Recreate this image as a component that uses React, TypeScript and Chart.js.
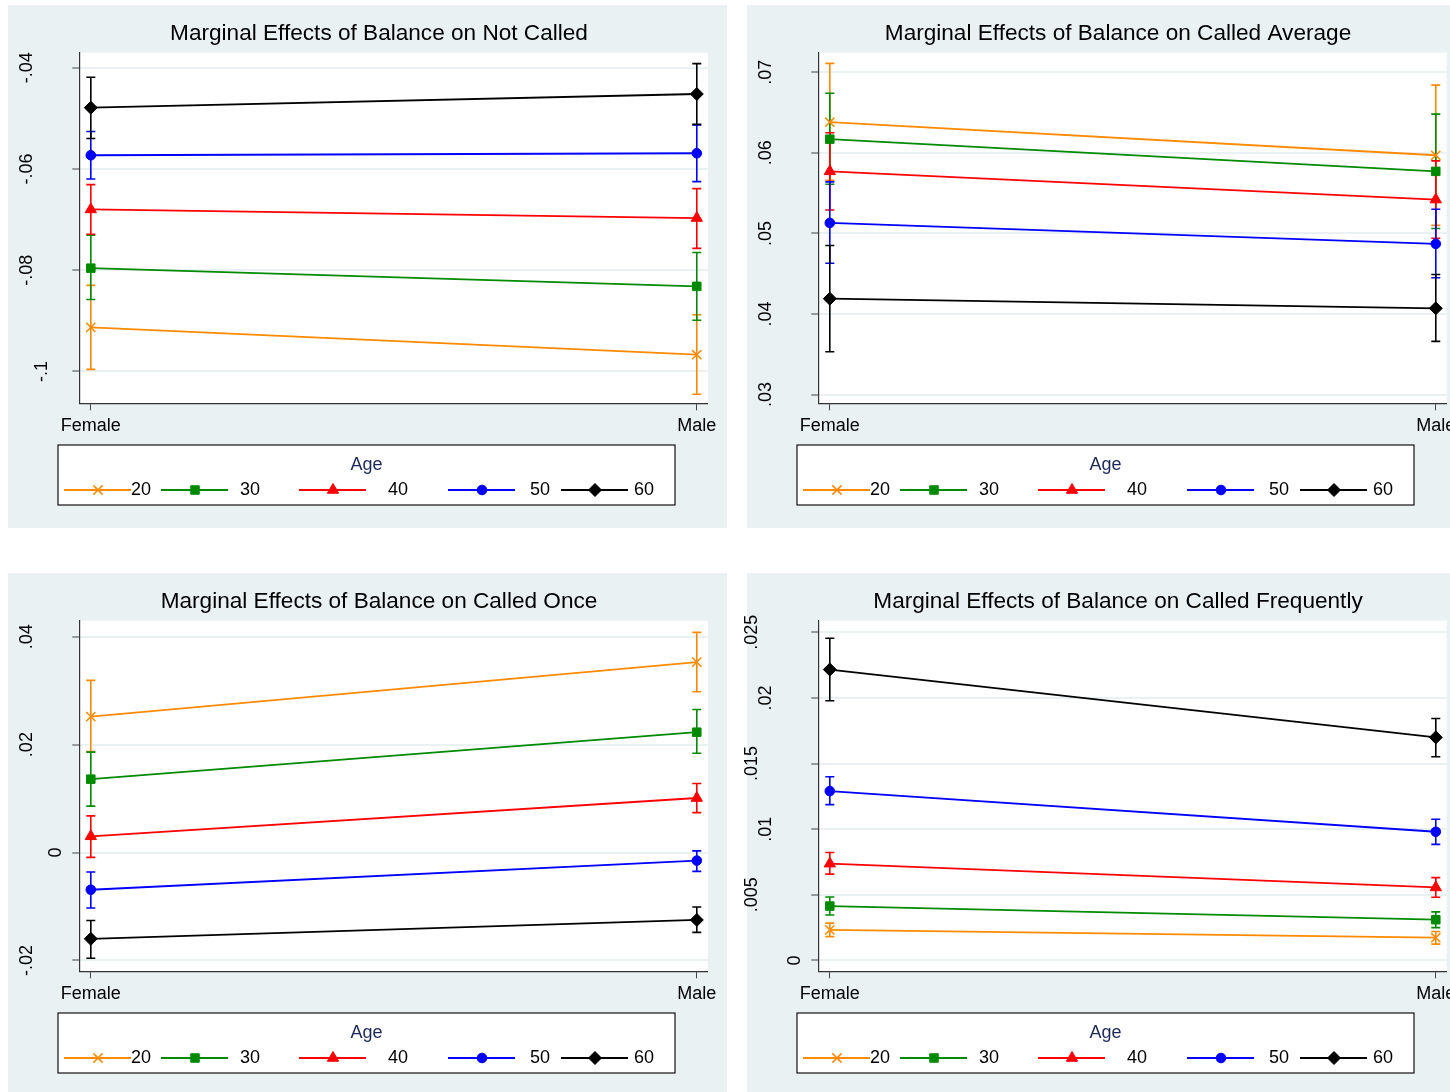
import React, { useEffect, useRef } from "react";
import { Chart, registerables } from "chart.js";

Chart.register(...registerables);

// ---------- data ----------
const categories = ["Female", "Male"];
const ageGroups = ["20", "30", "40", "50", "60"];

// Not Called
const notCalledEst = [[-0.0913, -0.0967], [-0.0796, -0.0832], [-0.068, -0.0697], [-0.0573, -0.0569], [-0.0479, -0.0452]];
const notCalledLow = [[-0.0996, -0.1045], [-0.0858, -0.0899], [-0.0729, -0.0757], [-0.062, -0.0625], [-0.054, -0.0512]];
const notCalledHigh = [[-0.083, -0.0888], [-0.0731, -0.0765], [-0.0631, -0.0639], [-0.0526, -0.0513], [-0.0419, -0.0392]];
const notCalledTicks = [-0.1, -0.08, -0.06, -0.04];
const notCalledTickLabels = ["-.1", "-.08", "-.06", "-.04"];

// Called Average
const avgEst = [[0.0638, 0.0597], [0.0617, 0.0577], [0.0577, 0.0542], [0.0513, 0.0487], [0.0419, 0.0407]];
const avgLow = [[0.0566, 0.051], [0.0561, 0.0506], [0.0529, 0.0494], [0.0463, 0.0445], [0.0353, 0.0366]];
const avgHigh = [[0.0711, 0.0684], [0.0674, 0.0648], [0.0625, 0.059], [0.0564, 0.053], [0.0485, 0.0449]];
const avgTicks = [0.03, 0.04, 0.05, 0.06, 0.07];
const avgTickLabels = [".03", ".04", ".05", ".06", ".07"];

// Called Once
const onceEst = [[0.0252, 0.0353], [0.0136, 0.0223], [0.003, 0.0101], [-0.0069, -0.0015], [-0.016, -0.0125]];
const onceLow = [[0.0187, 0.0298], [0.0086, 0.0184], [-0.0009, 0.0074], [-0.0103, -0.0035], [-0.0196, -0.0148]];
const onceHigh = [[0.0319, 0.0408], [0.0186, 0.0265], [0.0068, 0.0128], [-0.0036, 0.0003], [-0.0126, -0.0101]];
const onceTicks = [-0.02, 0, 0.02, 0.04];
const onceTickLabels = ["-.02", "0", ".02", ".04"];

// Called Frequently
const freqEst = [[0.00233, 0.00173], [0.00414, 0.0031], [0.00737, 0.00556], [0.0129, 0.0098], [0.02216, 0.01699]];
const freqLow = [[0.00181, 0.00124], [0.00346, 0.0025], [0.00657, 0.00481], [0.01187, 0.00884], [0.01978, 0.01551]];
const freqHigh = [[0.00284, 0.0022], [0.00483, 0.0037], [0.00822, 0.00631], [0.01399, 0.01075], [0.02454, 0.01843]];
const freqTicks = [0, 0.005, 0.01, 0.015, 0.02, 0.025];
const freqTickLabels = ["0", ".005", ".01", ".015", ".02", ".025"];

// ---------- styles ----------
const COLORS = ["#ff8a00", "#008a00", "#ff0000", "#0000ff", "#000000"];
const STYLES = ["crossRot", "rect", "triangle", "circle", "rectRot"];
const RADII = [6.5, 6, 6.5, 4.8, 6.5];
const FONT = "'Liberation Sans', Arial, Helvetica, sans-serif";
const BG = "#eaf1f3";
const OX = 8; // extra canvas margin on the left
const W = 719;
const H = 523;

type PanelProps = {
  title: string;
  est: number[][];
  low: number[][];
  high: number[][];
  yMin: number;
  yMax: number;
  ticks: number[];
  tickLabels: string[];
  left: number;
  top: number;
};

function drawMarker(ctx: CanvasRenderingContext2D, i: number, x: number, y: number) {
  ctx.save();
  ctx.fillStyle = COLORS[i];
  ctx.strokeStyle = COLORS[i];
  ctx.lineWidth = i === 0 ? 1.5 : 1;
  const r = RADII[i];
  ctx.beginPath();
  if (i === 0) {
    const d = r * Math.SQRT1_2;
    ctx.moveTo(x - d, y - d); ctx.lineTo(x + d, y + d);
    ctx.moveTo(x - d, y + d); ctx.lineTo(x + d, y - d);
    ctx.stroke();
  } else if (i === 1) {
    const s = r * Math.SQRT1_2;
    ctx.rect(x - s, y - s, 2 * s, 2 * s); ctx.fill(); ctx.stroke();
  } else if (i === 2) {
    ctx.moveTo(x, y - r);
    ctx.lineTo(x + r * Math.sin((2 * Math.PI) / 3), y - r * Math.cos((2 * Math.PI) / 3));
    ctx.lineTo(x + r * Math.sin((4 * Math.PI) / 3), y - r * Math.cos((4 * Math.PI) / 3));
    ctx.closePath(); ctx.fill(); ctx.stroke();
  } else if (i === 3) {
    ctx.arc(x, y, r, 0, Math.PI * 2); ctx.fill(); ctx.stroke();
  } else {
    ctx.moveTo(x - r, y); ctx.lineTo(x, y - r); ctx.lineTo(x + r, y); ctx.lineTo(x, y + r);
    ctx.closePath(); ctx.fill(); ctx.stroke();
  }
  ctx.restore();
}

function Panel(p: PanelProps) {
  const ref = useRef<HTMLCanvasElement | null>(null);
  useEffect(() => {
    if (!ref.current) return;
    const plugin = {
      id: "stataLook",
      beforeDraw(chart: any) {
        const { ctx, chartArea } = chart;
        ctx.save();
        ctx.clearRect(0, 0, chart.width, chart.height);
        ctx.fillStyle = BG;
        ctx.fillRect(OX, 0, W, chart.height);
        ctx.fillStyle = "#ffffff";
        ctx.fillRect(chartArea.left, chartArea.top, chartArea.right - chartArea.left, chartArea.bottom - chartArea.top);
        ctx.restore();
      },
      beforeDatasetsDraw(chart: any) {
        const { ctx } = chart;
        const xs = chart.scales.x;
        const ys = chart.scales.y;
        ctx.save();
        ctx.lineWidth = 1.6;
        for (let i = 0; i < ageGroups.length; i++) {
          ctx.strokeStyle = COLORS[i];
          for (let j = 0; j < categories.length; j++) {
            const x = xs.getPixelForValue(j);
            const yl = ys.getPixelForValue(p.low[i][j]);
            const yh = ys.getPixelForValue(p.high[i][j]);
            ctx.beginPath();
            ctx.moveTo(x, yl); ctx.lineTo(x, yh);
            ctx.moveTo(x - 4.5, yl); ctx.lineTo(x + 4.5, yl);
            ctx.moveTo(x - 4.5, yh); ctx.lineTo(x + 4.5, yh);
            ctx.stroke();
          }
        }
        ctx.restore();
      },
      afterDraw(chart: any) {
        const { ctx } = chart;
        const xs = chart.scales.x;
        const ys = chart.scales.y;
        ctx.save();
        // title
        ctx.fillStyle = "#000";
        ctx.font = `22.6px ${FONT}`;
        ctx.textAlign = "center";
        ctx.textBaseline = "alphabetic";
        ctx.fillText(p.title, OX + 371, 35);
        // x labels
        ctx.font = `18px ${FONT}`;
        xs.ticks.forEach((t: any) => {
          ctx.fillText(categories[t.value], xs.getPixelForValue(t.value), 426);
        });
        // y labels (rotated)
        ctx.textBaseline = "middle";
        p.ticks.forEach((v, k) => {
          const lab = p.tickLabels[k];
          const n = lab.replace("-", "").length;
          const cx = OX + 19.5 + 14.5 * (3 - n);
          const y = ys.getPixelForValue(v);
          ctx.save();
          ctx.translate(cx, y);
          ctx.rotate(-Math.PI / 2);
          ctx.fillText(lab, 0, 0);
          ctx.restore();
        });
        // legend
        const bx = OX + 50, by = 440, bw = 617, bh = 60;
        ctx.fillStyle = "#fff";
        ctx.fillRect(bx, by, bw, bh);
        ctx.strokeStyle = "#111";
        ctx.lineWidth = 1.2;
        ctx.strokeRect(bx, by, bw, bh);
        ctx.fillStyle = "#1c2a5a";
        ctx.textAlign = "center";
        ctx.textBaseline = "middle";
        ctx.fillText("Age", bx + bw / 2, 460);
        const lineStarts = [56, 153, 291, 440, 553];
        const labelX = [123, 232, 380, 522, 626];
        const ly = 485;
        for (let i = 0; i < ageGroups.length; i++) {
          ctx.strokeStyle = COLORS[i];
          ctx.lineWidth = 1.8;
          ctx.beginPath();
          ctx.moveTo(OX + lineStarts[i], ly);
          ctx.lineTo(OX + lineStarts[i] + 67, ly);
          ctx.stroke();
          drawMarker(ctx, i, OX + lineStarts[i] + 34, ly);
          ctx.fillStyle = "#000";
          ctx.textAlign = "left";
          ctx.fillText(ageGroups[i], OX + labelX[i], ly);
        }
        ctx.restore();
      },
    };

    const chart = new Chart(ref.current, {
      type: "line",
      data: {
        datasets: ageGroups.map((a, i) => ({
          label: a,
          data: categories.map((_c, j) => ({ x: j, y: p.est[i][j] })),
          borderColor: COLORS[i],
          backgroundColor: COLORS[i],
          pointBackgroundColor: COLORS[i],
          pointBorderColor: COLORS[i],
          pointStyle: STYLES[i] as any,
          pointRadius: RADII[i],
          pointBorderWidth: i === 0 ? 1.5 : 1,
          borderWidth: 1.8,
          tension: 0,
          order: ageGroups.length - 1 - i,
        })),
      },
      options: {
        responsive: false,
        animation: false,
        events: [],
        layout: { padding: { left: OX, top: 47.7, right: 19.3, bottom: 0 } },
        plugins: { legend: { display: false }, title: { display: false }, tooltip: { enabled: false } },
        scales: {
          x: {
            type: "linear",
            min: -0.019,
            max: 1.018,
            afterBuildTicks: (s: any) => {
              s.ticks = categories.map((_c, j) => ({ value: j }));
            },
            afterFit: (s: any) => {
              s.height = H - 398.3;
            },
            ticks: { display: false },
            grid: { drawOnChartArea: false, drawTicks: true, tickLength: 7, tickColor: "#444", tickWidth: 1 },
            border: { display: true, color: "#333", width: 1.2 },
          },
          y: {
            type: "linear",
            min: p.yMin,
            max: p.yMax,
            afterBuildTicks: (s: any) => {
              s.ticks = p.ticks.map((v) => ({ value: v }));
            },
            afterFit: (s: any) => {
              s.width = 71.3;
            },
            ticks: { display: false },
            grid: { color: BG, lineWidth: 2, drawTicks: true, tickLength: 7, tickColor: "#444", tickWidth: 1 },
            border: { display: true, color: "#333", width: 1.2 },
          },
        },
      },
      plugins: [plugin],
    } as any);
    return () => chart.destroy();
  }, []);
  return (
    <canvas
      ref={ref}
      width={W + OX}
      height={H}
      style={{ position: "absolute", left: p.left - OX, top: p.top, width: W + OX, height: H, display: "block" }}
    />
  );
}

export default function App() {
  return (
    <div style={{ position: "absolute", left: 0, top: 0, width: 1450, height: 1092, overflow: "hidden", background: "#fff" }}>
      <Panel title="Marginal Effects of Balance on Not Called" est={notCalledEst} low={notCalledLow} high={notCalledHigh}
        yMin={-0.1063} yMax={-0.03704} ticks={notCalledTicks} tickLabels={notCalledTickLabels} left={8} top={5} />
      <Panel title="Marginal Effects of Balance on Called Average" est={avgEst} low={avgLow} high={avgHigh}
        yMin={0.02891} yMax={0.07243} ticks={avgTicks} tickLabels={avgTickLabels} left={747} top={5} />
      <Panel title="Marginal Effects of Balance on Called Once" est={onceEst} low={onceLow} high={onceHigh}
        yMin={-0.02202} yMax={0.04297} ticks={onceTicks} tickLabels={onceTickLabels} left={8} top={573} />
      <Panel title="Marginal Effects of Balance on Called Frequently" est={freqEst} low={freqLow} high={freqHigh}
        yMin={-0.00083} yMax={0.02588} ticks={freqTicks} tickLabels={freqTickLabels} left={747} top={573} />
    </div>
  );
}
